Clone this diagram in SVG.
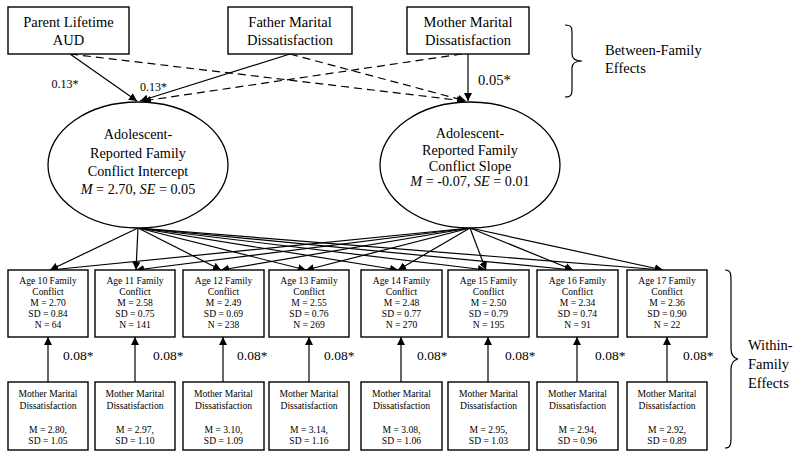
<svg xmlns="http://www.w3.org/2000/svg" width="800" height="458" viewBox="0 0 800 458" font-family="'Liberation Serif', 'Times New Roman', serif">
<defs>
<marker id="ah" viewBox="0 0 10 10" refX="10" refY="5" markerWidth="8" markerHeight="8" markerUnits="userSpaceOnUse" orient="auto">
<path d="M0,0 L10,5 L0,10 z" fill="#000"/>
</marker>
</defs>
<style>
text{fill:#000;text-anchor:middle}
.box{fill:#fff;stroke:#000;stroke-width:1.4}
.ell{fill:#fff;stroke:#000;stroke-width:1.3}
.t17{font-size:14.5px}
.t16{font-size:14.2px}
.t11{font-size:9.6px}
.lab{font-size:12px}
.lab2{font-size:13.5px;text-anchor:start}
.lab3{font-size:14.5px;text-anchor:start}
.side{font-size:14.5px;text-anchor:start}
.c{stroke:#000;stroke-width:1.2;fill:none;marker-end:url(#ah)}
.d{stroke-dasharray:8,5}
.br{stroke:#000;stroke-width:1.2;fill:none}
</style>
<rect width="800" height="458" fill="#fff"/>
<g id="connectors">
<line class="c" x1="70" y1="54" x2="137" y2="101"/>
<line class="c d" x1="70" y1="54" x2="465" y2="101"/>
<line class="c" x1="290" y1="54" x2="140" y2="101"/>
<line class="c d" x1="290" y1="54" x2="466" y2="101"/>
<line class="c d" x1="462" y1="54" x2="143" y2="101"/>
<line class="c" x1="468" y1="54" x2="468" y2="101"/>
<line class="c" x1="138" y1="228" x2="50" y2="270"/>
<line class="c" x1="138" y1="228" x2="136" y2="270"/>
<line class="c" x1="138" y1="228" x2="221" y2="270"/>
<line class="c" x1="138" y1="228" x2="306" y2="270"/>
<line class="c" x1="138" y1="228" x2="398" y2="270"/>
<line class="c" x1="138" y1="228" x2="486" y2="270"/>
<line class="c" x1="138" y1="228" x2="573" y2="270"/>
<line class="c" x1="138" y1="228" x2="663" y2="270"/>
<line class="c" x1="470" y1="228" x2="50" y2="270"/>
<line class="c" x1="470" y1="228" x2="136" y2="270"/>
<line class="c" x1="470" y1="228" x2="221" y2="270"/>
<line class="c" x1="470" y1="228" x2="306" y2="270"/>
<line class="c" x1="470" y1="228" x2="398" y2="270"/>
<line class="c" x1="470" y1="228" x2="486" y2="270"/>
<line class="c" x1="470" y1="228" x2="573" y2="270"/>
<line class="c" x1="470" y1="228" x2="663" y2="270"/>
<line class="c" x1="48" y1="382" x2="48" y2="337"/>
<line class="c" x1="135" y1="382" x2="135" y2="337"/>
<line class="c" x1="223" y1="382" x2="223" y2="337"/>
<line class="c" x1="309" y1="382" x2="309" y2="337"/>
<line class="c" x1="401" y1="382" x2="401" y2="337"/>
<line class="c" x1="488" y1="382" x2="488" y2="337"/>
<line class="c" x1="577" y1="382" x2="577" y2="337"/>
<line class="c" x1="667" y1="382" x2="667" y2="337"/>
<text class="lab" x="65" y="88">0.13*</text>
<text class="lab" x="153.5" y="91">0.13*</text>
<text class="lab3" x="478" y="85">0.05*</text>
<text class="lab2" x="63" y="360">0.08*</text>
<text class="lab2" x="153" y="360">0.08*</text>
<text class="lab2" x="237" y="360">0.08*</text>
<text class="lab2" x="324" y="360">0.08*</text>
<text class="lab2" x="417" y="360">0.08*</text>
<text class="lab2" x="505" y="360">0.08*</text>
<text class="lab2" x="595" y="360">0.08*</text>
<text class="lab2" x="683" y="360">0.08*</text>
</g>
<g id="aud"><rect class="box" x="8" y="7" width="121" height="47"/><text class="t17" x="68.5" y="27">Parent Lifetime</text><text class="t17" x="68.5" y="45">AUD</text></g>
<g id="father"><rect class="box" x="228" y="7" width="124" height="47"/><text class="t17" x="290" y="27">Father Marital</text><text class="t17" x="290" y="45">Dissatisfaction</text></g>
<g id="mother"><rect class="box" x="407" y="7" width="122" height="47"/><text class="t17" x="468" y="27">Mother Marital</text><text class="t17" x="468" y="45">Dissatisfaction</text></g>
<g id="between"><path class="br" d="M565,25 C572,25 572,28 572,34 L572,54 C572,59 575,61 582,61 C575,61 572,63 572,68 L572,88 C572,94 572,97 565,97"/><text class="side" x="605" y="55">Between-Family</text><text class="side" x="605" y="73">Effects</text></g>
<g id="intercept"><ellipse class="ell" cx="138" cy="165" rx="90" ry="63"/><text class="t16" x="138" y="139">Adolescent-</text><text class="t16" x="138" y="158">Reported Family</text><text class="t16" x="138" y="176">Conflict Intercept</text><text class="t16" x="138" y="194"><tspan font-style="italic">M</tspan> = 2.70, <tspan font-style="italic">SE</tspan> = 0.05</text></g>
<g id="slope"><ellipse class="ell" cx="470" cy="165" rx="90" ry="63"/><text class="t16" x="470" y="138">Adolescent-</text><text class="t16" x="470" y="155">Reported Family</text><text class="t16" x="470" y="171">Conflict Slope</text><text class="t16" x="470" y="186"><tspan font-style="italic">M</tspan> = -0.07, <tspan font-style="italic">SE</tspan> = 0.01</text></g>
<g id="age10"><rect class="box" x="8" y="270" width="80" height="67"/><text class="t11" x="48" y="284">Age 10 Family</text><text class="t11" x="48" y="295">Conflict</text><text class="t11" x="48" y="306">M = 2.70</text><text class="t11" x="48" y="317">SD = 0.84</text><text class="t11" x="48" y="328">N = 64</text></g>
<g id="age11"><rect class="box" x="95" y="270" width="80" height="67"/><text class="t11" x="135" y="284">Age 11 Family</text><text class="t11" x="135" y="295">Conflict</text><text class="t11" x="135" y="306">M = 2.58</text><text class="t11" x="135" y="317">SD = 0.75</text><text class="t11" x="135" y="328">N = 141</text></g>
<g id="age12"><rect class="box" x="183" y="270" width="81" height="67"/><text class="t11" x="223.5" y="284">Age 12 Family</text><text class="t11" x="223.5" y="295">Conflict</text><text class="t11" x="223.5" y="306">M = 2.49</text><text class="t11" x="223.5" y="317">SD = 0.69</text><text class="t11" x="223.5" y="328">N = 238</text></g>
<g id="age13"><rect class="box" x="269" y="270" width="80" height="67"/><text class="t11" x="309" y="284">Age 13 Family</text><text class="t11" x="309" y="295">Conflict</text><text class="t11" x="309" y="306">M = 2.55</text><text class="t11" x="309" y="317">SD = 0.76</text><text class="t11" x="309" y="328">N = 269</text></g>
<g id="age14"><rect class="box" x="361" y="270" width="81" height="67"/><text class="t11" x="401.5" y="284">Age 14 Family</text><text class="t11" x="401.5" y="295">Conflict</text><text class="t11" x="401.5" y="306">M = 2.48</text><text class="t11" x="401.5" y="317">SD = 0.77</text><text class="t11" x="401.5" y="328">N = 270</text></g>
<g id="age15"><rect class="box" x="448" y="270" width="81" height="67"/><text class="t11" x="488.5" y="284">Age 15 Family</text><text class="t11" x="488.5" y="295">Conflict</text><text class="t11" x="488.5" y="306">M = 2.50</text><text class="t11" x="488.5" y="317">SD = 0.79</text><text class="t11" x="488.5" y="328">N = 195</text></g>
<g id="age16"><rect class="box" x="537" y="270" width="81" height="67"/><text class="t11" x="577.5" y="284">Age 16 Family</text><text class="t11" x="577.5" y="295">Conflict</text><text class="t11" x="577.5" y="306">M = 2.34</text><text class="t11" x="577.5" y="317">SD = 0.74</text><text class="t11" x="577.5" y="328">N = 91</text></g>
<g id="age17"><rect class="box" x="627" y="270" width="80" height="67"/><text class="t11" x="667" y="284">Age 17 Family</text><text class="t11" x="667" y="295">Conflict</text><text class="t11" x="667" y="306">M = 2.36</text><text class="t11" x="667" y="317">SD = 0.90</text><text class="t11" x="667" y="328">N = 22</text></g>
<g id="mmd10"><rect class="box" x="8" y="382" width="80" height="68"/><text class="t11" x="48" y="397">Mother Marital</text><text class="t11" x="48" y="409">Dissatisfaction</text><text class="t11" x="48" y="433">M = 2.80,</text><text class="t11" x="48" y="444">SD = 1.05</text></g>
<g id="mmd11"><rect class="box" x="95" y="382" width="80" height="68"/><text class="t11" x="135" y="397">Mother Marital</text><text class="t11" x="135" y="409">Dissatisfaction</text><text class="t11" x="135" y="433">M = 2.97,</text><text class="t11" x="135" y="444">SD = 1.10</text></g>
<g id="mmd12"><rect class="box" x="183" y="382" width="81" height="68"/><text class="t11" x="223.5" y="397">Mother Marital</text><text class="t11" x="223.5" y="409">Dissatisfaction</text><text class="t11" x="223.5" y="433">M = 3.10,</text><text class="t11" x="223.5" y="444">SD = 1.09</text></g>
<g id="mmd13"><rect class="box" x="269" y="382" width="80" height="68"/><text class="t11" x="309" y="397">Mother Marital</text><text class="t11" x="309" y="409">Dissatisfaction</text><text class="t11" x="309" y="433">M = 3.14,</text><text class="t11" x="309" y="444">SD = 1.16</text></g>
<g id="mmd14"><rect class="box" x="361" y="382" width="81" height="68"/><text class="t11" x="401.5" y="397">Mother Marital</text><text class="t11" x="401.5" y="409">Dissatisfaction</text><text class="t11" x="401.5" y="433">M = 3.08,</text><text class="t11" x="401.5" y="444">SD = 1.06</text></g>
<g id="mmd15"><rect class="box" x="448" y="382" width="81" height="68"/><text class="t11" x="488.5" y="397">Mother Marital</text><text class="t11" x="488.5" y="409">Dissatisfaction</text><text class="t11" x="488.5" y="433">M = 2.95,</text><text class="t11" x="488.5" y="444">SD = 1.03</text></g>
<g id="mmd16"><rect class="box" x="537" y="382" width="81" height="68"/><text class="t11" x="577.5" y="397">Mother Marital</text><text class="t11" x="577.5" y="409">Dissatisfaction</text><text class="t11" x="577.5" y="433">M = 2.94,</text><text class="t11" x="577.5" y="444">SD = 0.96</text></g>
<g id="mmd17"><rect class="box" x="627" y="382" width="80" height="68"/><text class="t11" x="667" y="397">Mother Marital</text><text class="t11" x="667" y="409">Dissatisfaction</text><text class="t11" x="667" y="433">M = 2.92,</text><text class="t11" x="667" y="444">SD = 0.89</text></g>
<g id="within"><path class="br" d="M725,270 C731,270 731,274 731,282 L731,348 C731,355 733,358 738,359 C733,360 731,363 731,370 L731,436 C731,444 731,448 725,448"/><text class="side" x="748" y="350">Within-</text><text class="side" x="748" y="369">Family</text><text class="side" x="748" y="388">Effects</text></g>
</svg>
